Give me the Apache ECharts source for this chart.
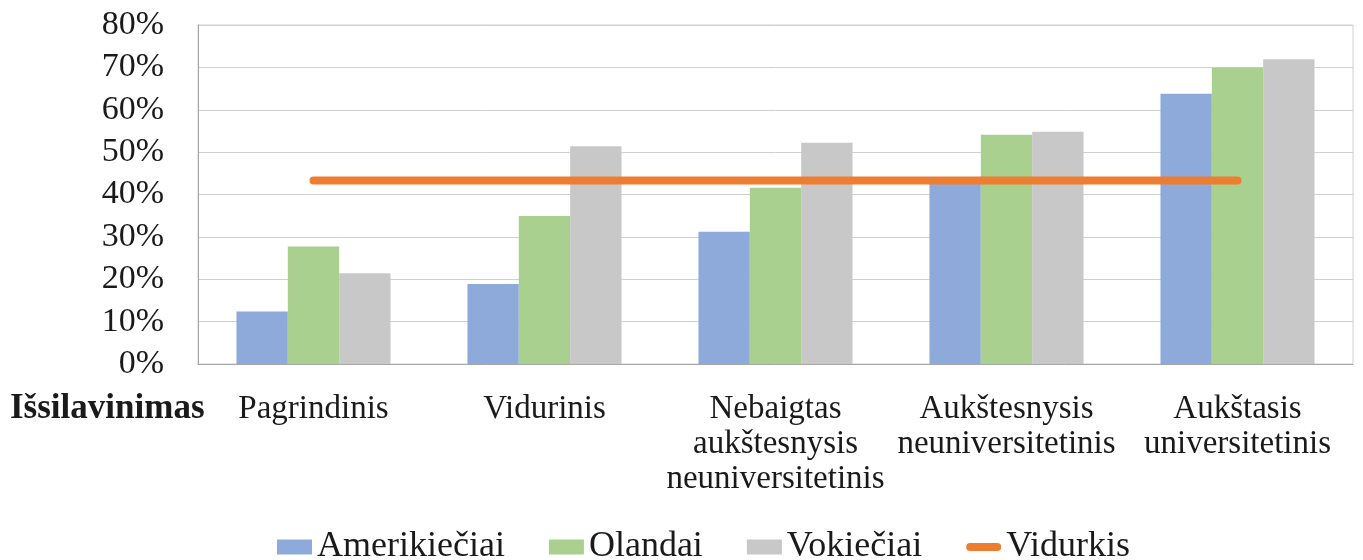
<!DOCTYPE html>
<html lang="lt">
  <head>
    <meta charset="UTF-8" />
    <title>Išsilavinimas</title>
    <script src="https://cdn.jsdelivr.net/npm/echarts@6/dist/echarts.min.js"></script>
    <style>
      html, body { margin: 0; padding: 0; background: #fff; }
      #main { width: 1363px; height: 560px; }
    </style>
  </head>
  <body>
    <div id="main"></div>
    <script>
      var categories = [
        "Pagrindinis",
        "Vidurinis",
        "Nebaigtas\naukštesnysis\nneuniversitetinis",
        "Aukštesnysis\nneuniversitetinis",
        "Aukštasis\nuniversitetinis"
      ];
      var amerikieciai = [12.4, 18.9, 31.2, 42.8, 63.8];
      var olandai = [27.7, 34.9, 41.6, 54.1, 69.9];
      var vokieciai = [21.4, 51.4, 52.2, 54.8, 71.9];
      var vidurkis = [43.3, 43.3, 43.3, 43.3, 43.3];

      var font = "'Liberation Serif', 'Times New Roman', serif";
      var myChart = echarts.init(document.getElementById("main"));

      var option = {
        animation: false,
        textStyle: { fontFamily: font, color: "#1a1a1a" },
        grid: {
          left: 198,
          right: 10,
          top: 25,
          bottom: 196,
          show: true,
          borderColor: "#d0d0d0",
          borderWidth: 1
        },
        legend: {
          left: 272,
          top: 524,
          icon: "rect",
          itemWidth: 35,
          itemHeight: 15,
          itemGap: 44,
          textStyle: { fontFamily: font, fontSize: 36, color: "#1a1a1a" },
          data: [
            "Amerikiečiai",
            "Olandai",
            "Vokiečiai",
            {
              name: "Vidurkis",
              icon: "path://M4,0 L31,0 A4,4 0 0 1 31,8 L4,8 A4,4 0 0 1 4,0 Z"
            }
          ]
        },
        graphic: [
          {
            type: "text",
            left: 10,
            top: 391,
            style: {
              text: "Išsilavinimas",
              font: "bold 35px " + font,
              fill: "#1a1a1a"
            }
          }
        ],
        xAxis: {
          type: "category",
          data: categories,
          axisTick: { show: false },
          axisLine: { lineStyle: { color: "#a6a6a6", width: 1 } },
          axisLabel: {
            interval: 0,
            margin: 28,
            fontFamily: font,
            fontSize: 33,
            lineHeight: 35,
            color: "#1a1a1a"
          }
        },
        yAxis: {
          type: "value",
          min: 0,
          max: 80,
          interval: 10,
          axisLine: { show: true, lineStyle: { color: "#a6a6a6" } },
          axisTick: { show: false },
          splitLine: { lineStyle: { color: "#d0d0d0", width: 1 } },
          axisLabel: {
            formatter: "{value}%",
            margin: 34,
            fontFamily: font,
            fontSize: 34,
            color: "#1a1a1a"
          }
        },
        series: [
          {
            name: "Amerikiečiai",
            type: "bar",
            data: amerikieciai,
            barGap: "0%",
            barCategoryGap: "33.3%",
            itemStyle: { color: "#8eaadb" }
          },
          {
            name: "Olandai",
            type: "bar",
            data: olandai,
            itemStyle: { color: "#a9d08e" }
          },
          {
            name: "Vokiečiai",
            type: "bar",
            data: vokieciai,
            itemStyle: { color: "#c8c8c8" }
          },
          {
            name: "Vidurkis",
            type: "line",
            data: vidurkis,
            symbol: "none",
            itemStyle: { color: "#ed7d31" },
            lineStyle: { color: "#ed7d31", width: 8, cap: "round" },
            z: 5
          }
        ]
      };

      myChart.setOption(option);
    </script>
  </body>
</html>
